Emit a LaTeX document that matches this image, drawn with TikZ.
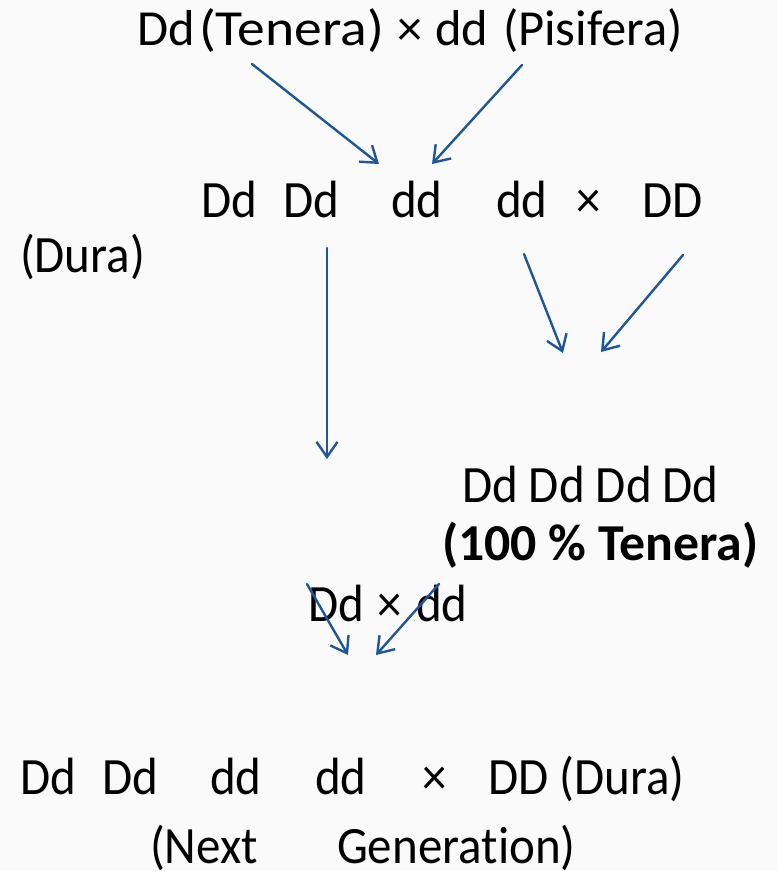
\documentclass[tikz,border=0pt]{standalone}
\usepackage{fontspec}
\setmainfont[Ligatures=NoCommon]{Carlito}
\usetikzlibrary{arrows.meta}
\definecolor{arrowblue}{RGB}{31,86,152}
\definecolor{bgcol}{RGB}{250,250,250}
\newcommand\stretchtxt[1]{\scalebox{1}[1.07]{#1}}
\begin{document}
\begin{tikzpicture}[x=1pt,y=-1pt,
  lbl/.style={anchor=base west, inner sep=0pt, outer sep=0pt, font=\fontsize{49}{58}\selectfont},
  toplbl/.style={lbl, font=\fontsize{50.5}{60}\selectfont},
  conn/.style={draw=arrowblue, line width=2.4pt, line cap=round,
    -{Straight Barb[length=15pt,width=21pt,line width=2.4pt]}}]
\fill[bgcol] (0,0) rectangle (777,871);
\useasboundingbox (0,0) rectangle (777,871);

% top cross
\node[toplbl] (t1) at (137,45) {Dd};
\node[toplbl] (t2) at (199,45) {\scalebox{1.1}[1]{(Tenera)}};
\node[toplbl] (t3) at (397,45) {×};
\node[toplbl] (t4) at (435,45) {dd};
\node[toplbl] (t5) at (503,45) {(Pisifera)};

% second row
\node[lbl] (r2a) at (201,217) {\stretchtxt{Dd}};
\node[lbl] (r2b) at (283,217) {\stretchtxt{Dd}};
\node[lbl] (r2c) at (391,217) {\stretchtxt{dd}};
\node[lbl] (r2d) at (496,217) {\stretchtxt{dd}};
\node[lbl] (r2x) at (576,217) {\stretchtxt{×}};
\node[lbl] (r2e) at (642,217) {\stretchtxt{DD}};
\node[lbl] (dura) at (20,272) {\stretchtxt{(Dura)}};

% tenera result
\node[lbl] (ten) at (462,502) {\stretchtxt{Dd Dd Dd Dd}};
\node[lbl, font=\fontsize{51.8}{60}\selectfont\bfseries] (tenlab) at (442,560) {(100 \% Tenera)};

% Dd x dd
\node[lbl] (ddx) at (308,621) {\stretchtxt{Dd\hspace{14pt}×\hspace{14pt}dd}};

% bottom row
\node[lbl] (b1) at (20,794) {\stretchtxt{Dd}};
\node[lbl] (b2) at (102,794) {\stretchtxt{Dd}};
\node[lbl] (b3) at (210,794) {\stretchtxt{dd}};
\node[lbl] (b4) at (315,794) {\stretchtxt{dd}};
\node[lbl] (bx) at (422,794) {\stretchtxt{×}};
\node[lbl] (b5) at (488,794) {\stretchtxt{DD (Dura)}};
\node[lbl] (n1) at (150,863) {\stretchtxt{(Next}};
\node[lbl] (n2) at (337,863) {\stretchtxt{Generation)}};

% connector endpoints
\coordinate (a1s) at (252,64);  \coordinate (a1e) at (379,164);
\coordinate (a2s) at (522,65);  \coordinate (a2e) at (432,164);
\coordinate (a3s) at (327,248); \coordinate (a3e) at (327,459);
\coordinate (a4s) at (524,254); \coordinate (a4e) at (563,353);
\coordinate (a5s) at (683,255); \coordinate (a5e) at (601,352);
\coordinate (a6s) at (307,584); \coordinate (a6e) at (348,655);
\coordinate (a7s) at (439,584); \coordinate (a7e) at (376,655);

\draw[conn] (a1s) -- (a1e);
\draw[conn] (a2s) -- (a2e);
\draw[conn] (a3s) -- (a3e);
\draw[conn] (a4s) -- (a4e);
\draw[conn] (a5s) -- (a5e);
\draw[conn] (a6s) -- (a6e);
\draw[conn] (a7s) -- (a7e);
\end{tikzpicture}
\end{document}
